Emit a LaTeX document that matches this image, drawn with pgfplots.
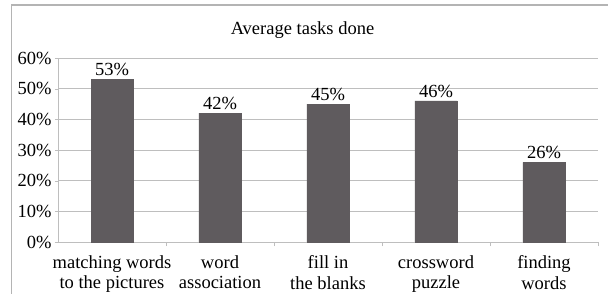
\documentclass[border=0pt]{standalone}
\usepackage{pgfplots}
\pgfplotsset{compat=1.18}
\usepackage{fontspec}
\setmainfont{Liberation Serif}
\definecolor{barc}{RGB}{95,91,94}
\definecolor{gridc}{RGB}{190,190,190}
\definecolor{framec}{RGB}{180,180,180}
\begin{document}
\begin{tikzpicture}
\path[use as bounding box, clip] (0,0) rectangle (608pt,-294pt);
\fill[white] (0,0) rectangle (608pt,-294pt);
\draw[framec, line width=1.5pt] (11.7pt,-310pt) -- (11.7pt,-5pt) -- (620pt,-5pt);
\node[font=\fontsize{18.5}{20}\selectfont, anchor=base] at (302.5pt,-35pt) {Average tasks done};
\begin{axis}[
  at={(58pt,-242pt)}, anchor=south west,
  scale only axis, width=540pt, height=184pt,
  xmin=-0.5, xmax=4.5, ymin=0, ymax=60,
  ybar, bar width=42pt,
  axis line style={gridc},
  axis x line*=bottom, axis y line*=left,
  ytick={0,10,...,60},
  yticklabel={\pgfmathprintnumber{\tick}\%},
  ymajorgrids, grid style={gridc, line width=0.8pt},
  xtick={0,1,2,3,4},
  xticklabels={{matching words\\to the pictures},{word\\association},{fill in\\the blanks},{crossword\\puzzle},{finding\\words}},
  xticklabel style={align=center, font=\fontsize{18.5}{20.5}\selectfont, yshift=-7pt},
  yticklabel style={font=\fontsize{18.5}{20}\selectfont},
  x tick style={draw=none},
  minor xtick={0.5,1.5,...,4.5},
  minor x tick style={draw=gridc},
  y tick style={gridc},
  tick align=outside,
  major tick length=3pt, minor tick length=4pt,
  /pgf/number format/assume math mode=true,
  nodes near coords={\pgfmathprintnumber{\pgfplotspointmeta}\%},
  nodes near coords style={font=\fontsize{18.5}{20}\selectfont, /pgf/number format/assume math mode=true},
]
\addplot[fill=barc, draw=barc] coordinates {(0,53) (1,42) (2,45) (3,46) (4,26)};
\end{axis}
\end{tikzpicture}
\end{document}
